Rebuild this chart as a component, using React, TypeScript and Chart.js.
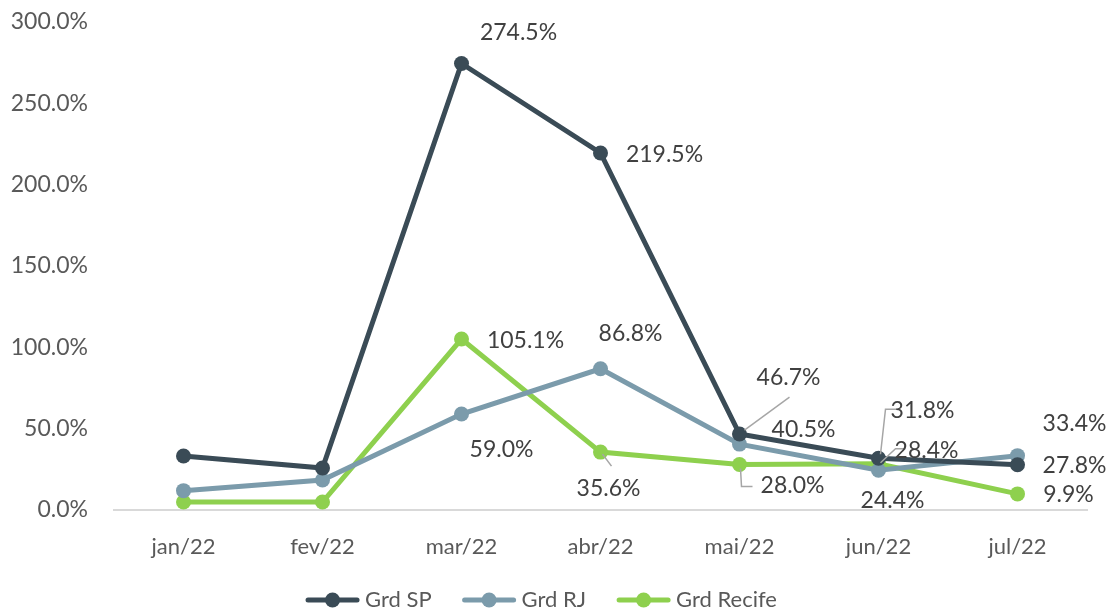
import React, { useEffect, useRef } from "react";
import { Chart, registerables } from "chart.js";

Chart.register(...registerables);

const categories = ["jan/22", "fev/22", "mar/22", "abr/22", "mai/22", "jun/22", "jul/22"];
const seriesNames = ["Grd SP", "Grd RJ", "Grd Recife"];
const grdSP = [33.2, 25.8, 274.5, 219.5, 46.7, 31.8, 27.8];
const grdRJ = [11.9, 18.4, 59.0, 86.8, 40.5, 24.4, 33.4];
const grdRecife = [4.9, 4.9, 105.1, 35.6, 28.0, 28.4, 9.9];
const yTicks = [0, 50, 100, 150, 200, 250, 300];
// which points carry a data label
const labelShown = [
  [false, false, true, true, true, true, true],
  [false, false, true, true, true, true, true],
  [false, false, true, true, true, true, true],
];

const COLORS = ["#3A4B56", "#7B9BAB", "#8ED04E"];
const FONT = "Lato, 'Open Sans', sans-serif";

// label placement (pixel offsets from point) & leader lines -- styling only
const labelOffsets: [number, number][][] = [
  [[0, 0], [0, 0], [57, -31], [64, 2], [49, -56], [44, -48], [57, 1]],
  [[0, 0], [0, 0], [40, 36], [30, -35], [64, -15], [14, 30], [57, -32]],
  [[0, 0], [0, 0], [64, 2], [8, 36], [53, 21], [48, -13], [51, 1]],
];
const leaders: ([number, number][] | null)[][] = [
  [null, null, null, null, [[5, -4], [50, -37]], [[2, -4], [7, -49], [19, -49]], null],
  [null, null, null, null, null, null, null],
  [null, null, null, [[2, 2], [11, 14]], [[1, 4], [2, 22], [13, 22]], [[2, -1], [17, -15], [27, -15]], null],
];

const labelPlugin = {
  id: "pctLabels",
  afterDatasetsDraw(chart: any) {
    const ctx = chart.ctx;
    ctx.save();
    chart.data.datasets.forEach((ds: any, i: number) => {
      const meta = chart.getDatasetMeta(i);
      meta.data.forEach((pt: any, j: number) => {
        if (!labelShown[i][j]) return;
        const lead = leaders[i][j];
        if (lead) {
          ctx.strokeStyle = "#A6A6A6";
          ctx.lineWidth = 1.5;
          ctx.beginPath();
          lead.forEach(([dx, dy], k) => {
            if (k === 0) ctx.moveTo(pt.x + dx, pt.y + dy);
            else ctx.lineTo(pt.x + dx, pt.y + dy);
          });
          ctx.stroke();
        }
        const [ox, oy] = labelOffsets[i][j];
        ctx.fillStyle = "#404040";
        ctx.font = `23px ${FONT}`;
        ctx.textAlign = "center";
        ctx.textBaseline = "middle";
        ctx.fillText(ds.data[j].toFixed(1) + "%", pt.x + ox, pt.y + oy);
      });
    });
    ctx.restore();
  },
};

// custom bottom legend: line + circle marker, then text
const legendPlugin = {
  id: "lineLegend",
  afterDraw(chart: any) {
    const ctx = chart.ctx;
    const MARK = 55, GAP = 5, ITEM_GAP = 30, CX = 541, CY = 600;
    ctx.save();
    ctx.font = `22px ${FONT}`;
    const items = chart.data.datasets.map((ds: any) => ({
      label: ds.label,
      color: ds.borderColor,
      w: ctx.measureText(ds.label).width,
    }));
    const total =
      items.reduce((s: number, it: any) => s + MARK + GAP + it.w, 0) + ITEM_GAP * (items.length - 1);
    let x = CX - total / 2;
    items.forEach((it: any) => {
      ctx.strokeStyle = it.color;
      ctx.lineWidth = 5;
      ctx.lineCap = "round";
      ctx.beginPath();
      ctx.moveTo(x + 3, CY);
      ctx.lineTo(x + MARK - 3, CY);
      ctx.stroke();
      ctx.fillStyle = it.color;
      ctx.beginPath();
      ctx.arc(x + MARK / 2, CY, 7.5, 0, Math.PI * 2);
      ctx.fill();
      ctx.fillStyle = "#595959";
      ctx.textAlign = "left";
      ctx.textBaseline = "middle";
      ctx.fillText(it.label, x + MARK + GAP, CY);
      x += MARK + GAP + it.w + ITEM_GAP;
    });
    ctx.restore();
  },
};

export default function App() {
  const ref = useRef<HTMLCanvasElement>(null);
  useEffect(() => {
    const values = [grdSP, grdRJ, grdRecife];
    const chart = new Chart(ref.current!, {
      type: "line",
      data: {
        labels: categories,
        datasets: seriesNames.map((name, i) => ({
          label: name,
          data: values[i],
          borderColor: COLORS[i],
          backgroundColor: COLORS[i],
          borderWidth: 5,
          pointRadius: 7.5,
          pointHoverRadius: 7.5,
          pointBackgroundColor: COLORS[i],
          pointBorderWidth: 0,
          tension: 0,
        })),
      },
      options: {
        animation: false,
        responsive: false,
        layout: { autoPadding: false, padding: { top: 22, right: 20, left: 0, bottom: 51 } },
        plugins: {
          tooltip: { enabled: false },
          legend: { display: false },
        },
        scales: {
          x: {
            offset: true,
            grid: { display: false, drawTicks: false },
            border: { display: true, color: "#D9D9D9", width: 2 },
            ticks: { color: "#595959", font: { size: 22, family: FONT }, padding: 24, maxRotation: 0 },
            afterFit: (s: any) => {
              s.height = 50;
            },
          },
          y: {
            min: 0,
            max: 300,
            afterBuildTicks: (s: any) => {
              s.ticks = yTicks.map((v) => ({ value: v }));
            },
            afterFit: (s: any) => {
              s.width = 114;
              s.paddingTop = 0;
              s.paddingBottom = 0;
            },
            grid: { display: false, drawTicks: false },
            border: { display: false },
            ticks: {
              color: "#595959",
              font: { size: 23, family: FONT },
              padding: 26,
              callback: (v: any) => Number(v).toFixed(1) + "%",
            },
          },
        },
      },
      plugins: [labelPlugin, legendPlugin],
    } as any);
    return () => chart.destroy();
  }, []);
  return (
    <div style={{ position: "fixed", left: 0, top: 0, width: 1107, height: 611, background: "#fff" }}>
      <canvas ref={ref} width={1107} height={611} />
    </div>
  );
}
